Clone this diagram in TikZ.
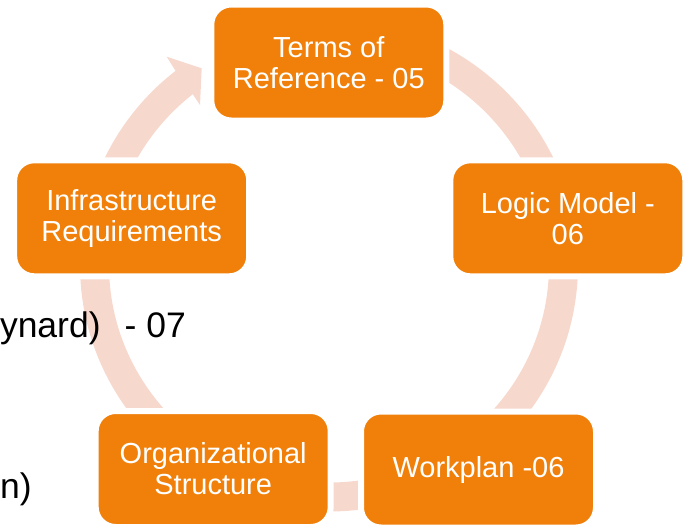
\documentclass[tikz,border=0pt]{standalone}
\usepackage{fontspec}
\setmainfont{Liberation Sans}
\definecolor{boxorange}{RGB}{240,128,10}
\definecolor{ringpink}{RGB}{247,216,205}
\tikzset{
  stage/.style={draw=white, line width=6pt, fill=boxorange, rounded corners=20pt,
    minimum width=235pt, minimum height=116pt, inner sep=0pt,
    text=white, align=center, font=\fontsize{29}{31}\selectfont},
  sidetext/.style={inner sep=0pt, font=\fontsize{35.5}{40}\selectfont}
}

\begin{document}
\begin{tikzpicture}[x=1pt, y=-1pt]
\useasboundingbox (0,0) rectangle (685,525);
\clip (0,0) rectangle (685,525);
\coordinate (ringc) at (329,265);
% ring behind the boxes
\draw[ringpink, line width=29pt] ([shift={(270:234.5 and 232)}]ringc) arc[start angle=270, end angle=592, x radius=234.5, y radius=232];
\fill[ringpink] (175,70) -- (166.7,56.7) -- (201.7,68.3) -- (200,105) -- (193.3,95) -- cycle;
% cut-off text at the left
\node[sidetext, anchor=base east] (maynard) at (186,337) {ynard)\hspace{24pt}- 07};
\node[sidetext, anchor=base west] (endn) at (0,498) {n)};
% the five stages
\node[stage] (terms) at (328.8,62.5) {Terms of\\Reference - 05};
\node[stage] (logic) at (567.8,218.3) {Logic Model -\\06};
\node[stage] (workplan) at (478.5,469.5) {Workplan -06};
\node[stage] (orgstruct) at (213.2,469) {Organizational\\Structure};
\node[stage] (infra) at (131.7,218.3) {Infrastructure\\Requirements};
\end{tikzpicture}
\end{document}
